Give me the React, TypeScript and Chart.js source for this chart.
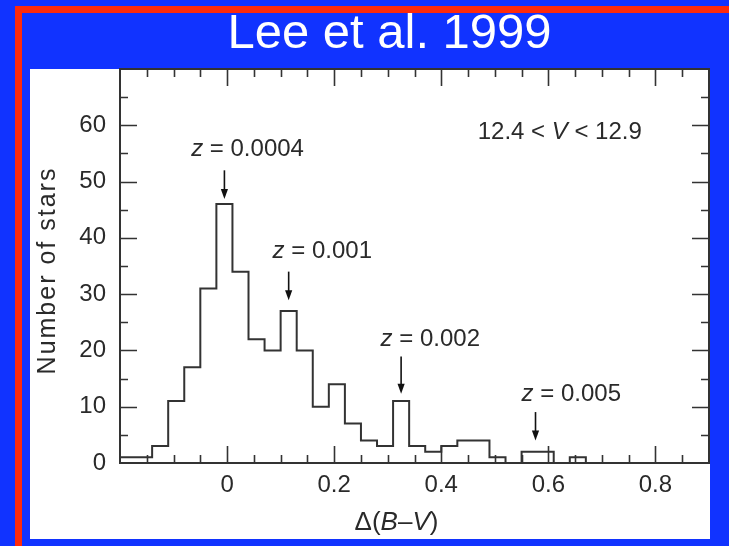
import React, { useEffect, useRef } from 'react';
import { Chart, registerables } from 'chart.js';

Chart.register(...registerables);

// ---- data ----
const binEdges = [
  -0.2, -0.17, -0.14, -0.11, -0.08, -0.05, -0.02, 0.01, 0.04, 0.07, 0.1, 0.13, 0.16, 0.19, 0.22,
  0.25, 0.28, 0.31, 0.34, 0.37, 0.4, 0.43, 0.46, 0.49, 0.52, 0.55, 0.58, 0.61, 0.64, 0.67,
];
const starCounts = [
  1, 1, 3, 11, 17, 31, 46, 34, 22, 20, 27, 20, 10, 14, 7, 4, 3, 11, 3, 2, 3, 4, 4, 1, 0, 2, 2, 0, 1,
];
const xTickValues = [0, 0.2, 0.4, 0.6, 0.8];
const xTickLabels = ['0', '0.2', '0.4', '0.6', '0.8'];
const yTickValues = [0, 10, 20, 30, 40, 50, 60];
const yTickLabels = ['0', '10', '20', '30', '40', '50', '60'];
const markerLabels = ['0.0004', '0.001', '0.002', '0.005'];
const markerX = [-0.005, 0.115, 0.325, 0.576];
const markerTipY = [46.9, 28.9, 12.3, 4.0];

// annotation placement (data coordinates)
const markerTextX = [-0.0671, 0.085, 0.2867, 0.55];
const markerTextY = [54.5, 36.5, 20.7, 11.1];
const markerTopY = [52.0, 34.0, 18.9, 9.05];

const FONT = "'Liberation Sans', Arial, Helvetica, sans-serif";
const INK = '#2a2a2a';

type Part = [string, boolean];

function drawRich(
  ctx: CanvasRenderingContext2D,
  parts: Part[],
  x: number,
  y: number,
  size: number,
  align: 'left' | 'center',
  color: string
) {
  const widths = parts.map(([t, it]) => {
    ctx.font = `${it ? 'italic ' : ''}${size}px ${FONT}`;
    return ctx.measureText(t).width;
  });
  const total = widths.reduce((a, b) => a + b, 0);
  let cx = align === 'center' ? x - total / 2 : x;
  ctx.textAlign = 'left';
  ctx.textBaseline = 'alphabetic';
  ctx.fillStyle = color;
  parts.forEach(([t, it], i) => {
    ctx.font = `${it ? 'italic ' : ''}${size}px ${FONT}`;
    ctx.fillText(t, cx, y);
    cx += widths[i];
  });
}

const near = (a: number, b: number) => Math.abs(a - b) < 1e-6;

const decorPlugin = {
  id: 'decor',
  beforeDraw(chart: any) {
    const ctx: CanvasRenderingContext2D = chart.ctx;
    const W = chart.width;
    const H = chart.height;
    ctx.save();
    ctx.fillStyle = '#1133ff';
    ctx.fillRect(0, 0, W, H);
    ctx.fillStyle = '#ff2a0a';
    ctx.fillRect(15, 6, W - 15, 7);
    ctx.fillRect(15, 6, 7, H - 6);
    ctx.fillStyle = '#ffffff';
    ctx.fillRect(30, 69, 680, 470);
    // main title
    ctx.fillStyle = '#ffffff';
    ctx.font = `49px ${FONT}`;
    ctx.textAlign = 'center';
    ctx.textBaseline = 'alphabetic';
    ctx.fillText('Lee et al. 1999', 389.5, 48);
    ctx.restore();
  },
  afterDraw(chart: any) {
    const ctx: CanvasRenderingContext2D = chart.ctx;
    const { left, right, top, bottom } = chart.chartArea;
    const xs = chart.scales.x;
    const ys = chart.scales.y;
    ctx.save();
    // frame
    ctx.strokeStyle = '#333333';
    ctx.lineWidth = 2;
    ctx.strokeRect(left, top, right - left, bottom - top);
    // inward ticks
    ctx.lineWidth = 1.6;
    ctx.beginPath();
    xs.ticks.forEach((t: any) => {
      const v = t.value;
      if (near(v, xs.min) || near(v, xs.max)) return;
      const major = xTickValues.some((m) => near(m, v));
      const len = major ? 17 : 8;
      const px = Math.round(xs.getPixelForValue(v)) + 0.5;
      ctx.moveTo(px, bottom);
      ctx.lineTo(px, bottom - len);
      ctx.moveTo(px, top);
      ctx.lineTo(px, top + len);
    });
    ys.ticks.forEach((t: any) => {
      const v = t.value;
      if (near(v, ys.min) || near(v, ys.max)) return;
      const major = yTickValues.some((m) => near(m, v));
      const len = major ? 17 : 8;
      const py = Math.round(ys.getPixelForValue(v)) + 0.5;
      ctx.moveTo(left, py);
      ctx.lineTo(left + len, py);
      ctx.moveTo(right, py);
      ctx.lineTo(right - len, py);
    });
    ctx.stroke();

    // arrows and marker labels
    markerLabels.forEach((lab, i) => {
      const ax = xs.getPixelForValue(markerX[i]);
      const aTop = ys.getPixelForValue(markerTopY[i]);
      const aTip = ys.getPixelForValue(markerTipY[i]);
      ctx.strokeStyle = '#111111';
      ctx.fillStyle = '#111111';
      ctx.lineWidth = 1.6;
      ctx.beginPath();
      ctx.moveTo(ax, aTop);
      ctx.lineTo(ax, aTip - 6);
      ctx.stroke();
      ctx.beginPath();
      ctx.moveTo(ax, aTip);
      ctx.lineTo(ax - 3.6, aTip - 10);
      ctx.lineTo(ax + 3.6, aTip - 10);
      ctx.closePath();
      ctx.fill();
      drawRich(
        ctx,
        [
          ['z', true],
          [' = ' + lab, false],
        ],
        xs.getPixelForValue(markerTextX[i]),
        ys.getPixelForValue(markerTextY[i]),
        24,
        'left',
        INK
      );
    });

    // magnitude range label
    drawRich(
      ctx,
      [
        ['12.4 < ', false],
        ['V', true],
        [' < 12.9', false],
      ],
      xs.getPixelForValue(0.468),
      ys.getPixelForValue(57.5),
      24,
      'left',
      INK
    );

    // x axis title
    drawRich(
      ctx,
      [
        ['\u0394(', false],
        ['B', true],
        ['\u2013', false],
        ['V', true],
        [')', false],
      ],
      396.5,
      530,
      26,
      'center',
      INK
    );

    // y axis title
    ctx.save();
    ctx.translate(55, 271.5);
    ctx.rotate(-Math.PI / 2);
    ctx.font = `25px ${FONT}`;
    (ctx as any).letterSpacing = '2px';
    ctx.fillStyle = INK;
    ctx.textAlign = 'center';
    ctx.textBaseline = 'alphabetic';
    ctx.fillText('Number of stars', 1, 0);
    ctx.restore();

    ctx.restore();
  },
};

export default function App() {
  const canvasRef = useRef<HTMLCanvasElement | null>(null);

  useEffect(() => {
    const canvas = canvasRef.current;
    if (!canvas) return;
    const points = binEdges.map((e, i) => ({ x: e, y: i < starCounts.length ? starCounts[i] : 0 }));

    const chart = new Chart(canvas, {
      type: 'line',
      data: {
        datasets: [
          {
            data: points,
            stepped: 'before',
            borderColor: '#333333',
            borderWidth: 2,
            pointRadius: 0,
            fill: false,
            tension: 0,
          } as any,
        ],
      },
      options: {
        animation: false,
        responsive: false,
        devicePixelRatio: 1,
        events: [],
        layout: { padding: { left: 0, top: 69, right: 20, bottom: 43 } },
        plugins: {
          legend: { display: false },
          tooltip: { enabled: false },
          title: { display: false },
        },
        scales: {
          x: {
            type: 'linear',
            min: -0.2,
            max: 0.9,
            grid: { display: false, drawTicks: false },
            border: { display: false },
            afterFit: (s: any) => {
              s.height = 40;
            },
            ticks: {
              stepSize: 0.05,
              autoSkip: false,
              maxRotation: 0,
              minRotation: 0,
              padding: 8,
              color: INK,
              font: { family: FONT, size: 24 },
              callback: (v: any) => {
                const idx = xTickValues.findIndex((m) => near(m, Number(v)));
                return idx >= 0 ? xTickLabels[idx] : '';
              },
            },
          },
          y: {
            type: 'linear',
            min: 0,
            max: 70,
            grid: { display: false, drawTicks: false },
            border: { display: false },
            afterFit: (s: any) => {
              s.width = 120;
            },
            ticks: {
              stepSize: 5,
              autoSkip: false,
              padding: 14,
              color: INK,
              font: { family: FONT, size: 24 },
              callback: (v: any) => {
                const idx = yTickValues.findIndex((m) => near(m, Number(v)));
                return idx >= 0 ? yTickLabels[idx] : '';
              },
            },
          },
        },
      },
      plugins: [decorPlugin],
    });

    return () => {
      chart.destroy();
    };
  }, []);

  return (
    <div style={{ position: 'fixed', left: 0, top: 0, width: 729, height: 546, overflow: 'hidden' }}>
      <canvas ref={canvasRef} width={729} height={546} style={{ display: 'block', width: 729, height: 546 }} />
    </div>
  );
}
